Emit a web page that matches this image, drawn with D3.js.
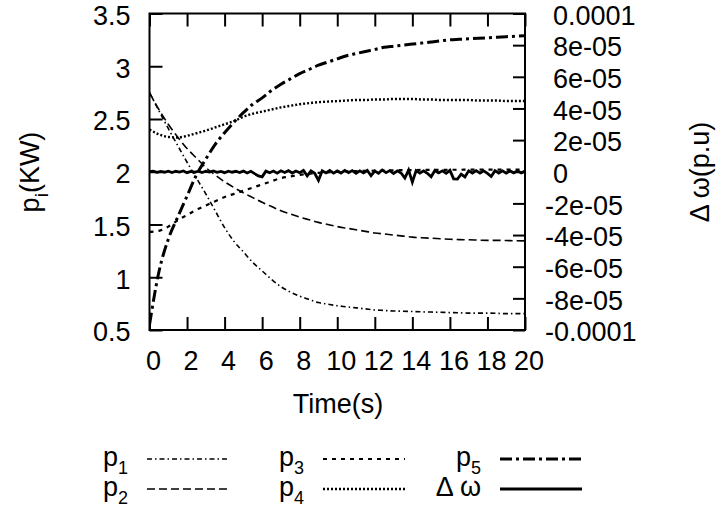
<!DOCTYPE html>
<html>
<head>
<meta charset="utf-8">
<script src="https://cdn.jsdelivr.net/npm/d3@7"></script>
<style>
body { margin: 0; background: #fff; }
text { font-family: "Liberation Sans", Arial, Helvetica, sans-serif; fill: #000; }
</style>
</head>
<body>
<div id="chart"></div>
<script>
// sample times (s) for the power curves
const time = [0, 0.5, 1, 1.5, 2, 2.5, 3, 3.5, 4, 4.5,
    5, 5.5, 6, 6.5, 7, 7.5, 8, 8.5, 9, 9.5,
    10, 10.5, 11, 11.5, 12, 12.5, 13, 13.5, 14, 14.5,
    15, 15.5, 16, 16.5, 17, 17.5, 18, 18.5, 19, 19.5, 20];

const p1 = [2.75, 2.58, 2.41, 2.25, 2.09, 1.94, 1.79, 1.63, 1.47, 1.34,
    1.24, 1.14, 1.06, 0.98, 0.91, 0.86, 0.82, 0.79, 0.76, 0.745,
    0.73, 0.72, 0.71, 0.70, 0.69, 0.685, 0.68, 0.678, 0.675, 0.672,
    0.67, 0.668, 0.665, 0.663, 0.66, 0.66, 0.66, 0.658, 0.655, 0.655, 0.655];

const p2 = [2.75, 2.59, 2.45, 2.33, 2.22, 2.13, 2.04, 1.97, 1.905, 1.85,
    1.80, 1.755, 1.71, 1.67, 1.63, 1.60, 1.57, 1.545, 1.52, 1.50,
    1.48, 1.465, 1.45, 1.435, 1.42, 1.41, 1.40, 1.39, 1.38, 1.375,
    1.37, 1.365, 1.36, 1.357, 1.355, 1.352, 1.35, 1.35, 1.348, 1.346, 1.345];

const p3 = [1.43, 1.44, 1.48, 1.54, 1.59, 1.64, 1.68, 1.72, 1.76, 1.79,
    1.82, 1.85, 1.88, 1.91, 1.94, 1.955, 1.97, 1.98, 1.99, 1.995,
    2.0, 2.003, 2.006, 2.008, 2.01, 2.012, 2.014, 2.015, 2.016, 2.017,
    2.018, 2.018, 2.019, 2.019, 2.02, 2.02, 2.02, 2.02, 2.02, 2.02, 2.02];

const p4 = [2.40, 2.355, 2.33, 2.325, 2.34, 2.365, 2.39, 2.42, 2.45, 2.48,
    2.52, 2.55, 2.57, 2.59, 2.61, 2.625, 2.64, 2.65, 2.66, 2.665,
    2.67, 2.675, 2.68, 2.68, 2.685, 2.685, 2.69, 2.69, 2.69, 2.685,
    2.685, 2.68, 2.68, 2.68, 2.68, 2.675, 2.675, 2.675, 2.67, 2.67, 2.67];

const p5 = [0.55, 1.05, 1.36, 1.57, 1.77, 1.97, 2.12, 2.26, 2.37, 2.47,
    2.56, 2.64, 2.70, 2.77, 2.83, 2.88, 2.93, 2.97, 3.01, 3.04,
    3.07, 3.10, 3.12, 3.14, 3.16, 3.18, 3.19, 3.20, 3.21, 3.22,
    3.23, 3.24, 3.25, 3.255, 3.26, 3.265, 3.27, 3.275, 3.28, 3.285, 3.29];

// delta omega, finer sampling, values in units of 1e-6 p.u.
const dwTime = [0, 0.2, 0.4, 0.6, 0.8, 1, 1.2, 1.4, 1.6, 1.8,
    2, 2.2, 2.4, 2.6, 2.8, 3, 3.2, 3.4, 3.6, 3.8,
    4, 4.2, 4.4, 4.6, 4.8, 5, 5.2, 5.4, 5.6, 5.8,
    6, 6.2, 6.4, 6.6, 6.8, 7, 7.2, 7.4, 7.6, 7.8,
    8, 8.2, 8.4, 8.6, 8.8, 9, 9.2, 9.4, 9.6, 9.8,
    10, 10.2, 10.4, 10.6, 10.8, 11, 11.2, 11.4, 11.6, 11.8,
    12, 12.2, 12.4, 12.6, 12.8, 13, 13.2, 13.4, 13.6, 13.8,
    14, 14.2, 14.4, 14.6, 14.8, 15, 15.2, 15.4, 15.6, 15.8,
    16, 16.2, 16.4, 16.6, 16.8, 17, 17.2, 17.4, 17.6, 17.8,
    18, 18.2, 18.4, 18.6, 18.8, 19, 19.2, 19.4, 19.6, 19.8, 20];

const dwMicro = [0.0, 0.3, -0.4, 0.2, -0.3, 0.4, -0.5, 0.3, -0.2, 0.5,
    -0.6, 0.2, -0.3, 0.4, -0.5, 0.3, -0.2, 0.5, -0.4, 0.2,
    -0.6, 0.4, -0.3, 0.3, -0.5, 0.4, -0.8, 0.3, -1.2, -2.6,
    -3.2, 0.4, -0.6, 0.5, -0.9, 0.6, -0.5, 0.7, -0.8, 0.5,
    -0.6, 0.8, -2.6, 0.5, -1.0, -5.5, 0.6, -0.7, 0.8, -0.9,
    0.5, -0.8, 0.9, -0.6, 0.7, -1.0, 0.6, -0.7, 0.8, -2.5,
    0.5, -0.9, 1.1, -0.6, 0.7, -1.1, 0.6, -0.8, -4.0, 1.0,
    -6.6, 0.7, -0.9, 0.6, -1.0, -3.2, 0.8, -0.7, 0.6, -1.0,
    0.9, -4.5, -4.6, -1.5, -3.3, 0.6, -0.8, 0.7, -0.9, 0.6,
    -1.0, -3.0, 0.7, -0.8, 0.6, -0.9, 0.5, -0.7, 0.6, -0.8, 0.4];

const xTicks = [0, 2, 4, 6, 8, 10, 12, 14, 16, 18, 20];
const yTicks = [0.5, 1, 1.5, 2, 2.5, 3, 3.5];
const yTickLabels = ["0.5", "1", "1.5", "2", "2.5", "3", "3.5"];
const y2Ticks = [-1e-4, -8e-5, -6e-5, -4e-5, -2e-5, 0, 2e-5, 4e-5, 6e-5, 8e-5, 1e-4];
const y2TickLabels = ["-0.0001", "-8e-05", "-6e-05", "-4e-05", "-2e-05", "0",
    "2e-05", "4e-05", "6e-05", "8e-05", "0.0001"];

const FONT = '"Liberation Sans", Arial, Helvetica, sans-serif';
const width = 716, height = 509;
const plot = { left: 149.5, right: 525, top: 13.5, bottom: 330 };

const svg = d3.select("#chart")
    .append("svg")
    .attr("width", width)
    .attr("height", height)
    .style("display", "block");

const x = d3.scaleLinear().domain([0, 20]).range([plot.left, plot.right]);
const y = d3.scaleLinear().domain([0.5, 3.5]).range([plot.bottom, plot.top]);
const y2 = d3.scaleLinear().domain([-1e-4, 1e-4]).range([plot.bottom, plot.top]);

svg.append("clipPath")
    .attr("id", "clip")
    .append("rect")
    .attr("x", plot.left)
    .attr("y", plot.top)
    .attr("width", plot.right - plot.left)
    .attr("height", plot.bottom - plot.top);

// series styles
const series = [
    { key: "1", values: p1, dash: "5,3,1.5,3", width: 1.6 },
    { key: "2", values: p2, dash: "8,4", width: 1.6 },
    { key: "3", values: p3, dash: "4,5", width: 2.2 },
    { key: "4", values: p4, dash: "2,2", width: 2.4 },
    { key: "5", values: p5, dash: "12,4,3,4", width: 3 }
];

const line = d3.line()
    .x(d => x(d[0]))
    .y(d => y(d[1]))
    .curve(d3.curveMonotoneX);

const lineW = d3.line()
    .x(d => x(d[0]))
    .y(d => y2(d[1] * 1e-6));

const curves = svg.append("g").attr("clip-path", "url(#clip)");

curves.append("path")
    .datum(dwTime.map((t, i) => [t, dwMicro[i]]))
    .attr("fill", "none")
    .attr("stroke", "#000")
    .attr("stroke-width", 2.8)
    .attr("d", lineW);

curves.selectAll("path.pcurve")
    .data(series)
    .join("path")
    .attr("class", "pcurve")
    .attr("fill", "none")
    .attr("stroke", "#000")
    .attr("stroke-width", d => d.width)
    .attr("stroke-dasharray", d => d.dash)
    .attr("d", d => line(time.map((t, i) => [t, d.values[i]])));

function styleAxis(g) {
    g.attr("font-size", 27).attr("font-family", FONT);
    g.select(".domain").remove();
    g.selectAll(".tick line").attr("stroke", "#000").attr("stroke-width", 2);
    g.selectAll(".tick text").attr("fill", "#000");
}

svg.append("g")
    .attr("transform", `translate(${plot.left},0)`)
    .call(d3.axisLeft(y).tickValues(yTicks).tickFormat((d, i) => yTickLabels[i]).tickSize(-13).tickPadding(19))
    .call(styleAxis)
    .selectAll(".tick text").attr("dy", "0.4em");

svg.append("g")
    .attr("transform", `translate(${plot.right},0)`)
    .call(d3.axisRight(y2).tickValues(y2Ticks).tickFormat((d, i) => y2TickLabels[i]).tickSize(-12).tickPadding(28))
    .call(styleAxis)
    .selectAll(".tick text")
    .attr("dy", "0.4em")
    .attr("x", d => d < 0 ? 20 : 28);

svg.append("g")
    .attr("transform", `translate(0,${plot.bottom})`)
    .call(d3.axisBottom(x).tickValues(xTicks).tickSize(-13).tickPadding(21))
    .call(styleAxis)
    .selectAll(".tick text").attr("dx", 3.5);

svg.append("g")
    .attr("transform", `translate(0,${plot.top})`)
    .call(d3.axisTop(x).tickValues(xTicks).tickSize(-13).tickFormat(""))
    .call(styleAxis);

svg.append("rect")
    .attr("x", plot.left)
    .attr("y", plot.top)
    .attr("width", plot.right - plot.left)
    .attr("height", plot.bottom - plot.top)
    .attr("fill", "none")
    .attr("stroke", "#000")
    .attr("stroke-width", 2);

// axis titles
const yTitle = svg.append("text")
    .attr("transform", "translate(39,172) rotate(-90)")
    .attr("text-anchor", "middle")
    .attr("font-size", 27);
yTitle.append("tspan").text("p");
yTitle.append("tspan").attr("font-size", 19).attr("dy", 9).text("i");
yTitle.append("tspan").attr("dy", -9).text("(KW)");

svg.append("text")
    .attr("transform", "translate(709,172) rotate(-90)")
    .attr("text-anchor", "middle")
    .attr("font-size", 27)
    .text("\u0394 \u03c9(p.u)");

svg.append("text")
    .attr("x", 338)
    .attr("y", 413)
    .attr("text-anchor", "middle")
    .attr("font-size", 27)
    .text("Time(s)");

// legend
const legendItems = [
    { base: "p", sub: "1", dash: "5,3,1.5,3", width: 1.6, col: 0, row: 0 },
    { base: "p", sub: "2", dash: "8,4", width: 1.6, col: 0, row: 1 },
    { base: "p", sub: "3", dash: "4,5", width: 2.2, col: 1, row: 0 },
    { base: "p", sub: "4", dash: "2,2", width: 2.4, col: 1, row: 1 },
    { base: "p", sub: "5", dash: "12,4,3,4", width: 3, col: 2, row: 0 },
    { base: "\u0394 \u03c9", sub: "", dash: null, width: 3, col: 2, row: 1 }
];
const colEnd = [128, 304, 481];
const rowBase = [466, 496];

const legend = svg.append("g").attr("class", "legend");
legendItems.forEach(d => {
    const t = legend.append("text")
        .attr("x", colEnd[d.col])
        .attr("y", rowBase[d.row])
        .attr("text-anchor", "end")
        .attr("font-size", 27);
    t.append("tspan").text(d.base);
    if (d.sub) t.append("tspan").attr("font-size", 18).attr("dy", 8).text(d.sub);

    legend.append("line")
        .attr("x1", colEnd[d.col] + 19)
        .attr("x2", colEnd[d.col] + 101)
        .attr("y1", rowBase[d.row] - 7)
        .attr("y2", rowBase[d.row] - 7)
        .attr("stroke", "#000")
        .attr("stroke-width", d.width)
        .attr("stroke-dasharray", d.dash);
});
</script>
</body>
</html>
